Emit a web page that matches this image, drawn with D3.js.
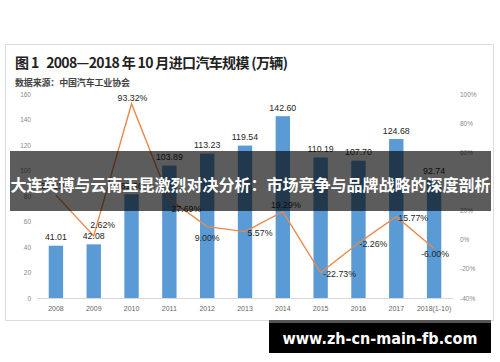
<!DOCTYPE html>
<html><head><meta charset="utf-8">
<script src="https://cdn.jsdelivr.net/npm/d3@7/dist/d3.min.js"></script>
<style>html,body{margin:0;padding:0;background:#fff;}svg{display:block;}</style>
</head><body>
<svg id="c" width="500" height="362"></svg>
<script>
const categories = ["2008","2009","2010","2011","2012","2013","2014","2015","2016","2017","2018(1-10)"];
const imports = [41.01, 42.08, 81.36, 103.89, 113.23, 119.54, 142.60, 110.19, 107.70, 124.68, 92.74];
const growth = [30.61, 2.62, 93.32, 27.69, 9.00, 5.57, 19.29, -22.73, -2.26, 15.77, -6.00];
const leftTicks = [0, 20, 40, 60, 80, 100, 120, 140, 160];
const rightTicks = [-40, -20, 0, 20, 40, 60, 80, 100];
// label placement for growth labels (dx, dy from point)
const growthLabelOffset = [[0,-6],[9,-8],[1,-3],[17,13],[0,14],[15,4],[3,-4],[19,4],[15,4],[17,4],[1,9]];

const svg = d3.select("#c");
const CJK = "'Noto Sans CJK SC', 'Noto Sans', sans-serif";
const LAT = "'Liberation Sans', Arial, sans-serif";

// frame
svg.append("rect").attr("x",5.5).attr("y",44.5).attr("width",488).attr("height",276)
  .attr("fill","#fff").attr("stroke","#dcdcdc").attr("stroke-width",1);

svg.append("text").attr("x",15).attr("y",68).attr("font-family",CJK).attr("font-weight","bold")
  .attr("font-size",14).attr("fill","#222").style("white-space","pre")
  .attr("textLength",273).attr("lengthAdjust","spacing")
  .text("图 1   2008—2018 年 10 月进口汽车规模 (万辆)");
svg.append("text").attr("x",15).attr("y",85.5).attr("font-family",CJK).attr("font-weight","bold")
  .attr("font-size",9).attr("fill","#444").attr("textLength",115).attr("lengthAdjust","spacing")
  .text("数据来源：中国汽车工业协会");

const x = d3.scaleBand().domain(categories).range([37,453]).paddingInner(0.62).paddingOuter(0.31);
const yL = d3.scaleLinear().domain([0,160]).range([298,94]);
const yR = d3.scaleLinear().domain([-40,100]).range([298,94]);

// axes
const gl = svg.append("g").attr("transform","translate(33,0)")
  .call(d3.axisLeft(yL).tickValues(leftTicks).tickSize(0).tickPadding(2));
gl.select(".domain").remove();
gl.selectAll("text").attr("font-family",LAT).attr("font-size",6.5).attr("fill","#888");

const gr = svg.append("g").attr("transform","translate(458,0)")
  .call(d3.axisRight(yR).tickValues(rightTicks).tickSize(0).tickPadding(2).tickFormat(d=>d+"%"));
gr.select(".domain").remove();
gr.selectAll("text").attr("font-family",LAT).attr("font-size",6.5).attr("fill","#888");

const gx = svg.append("g").attr("transform","translate(0,298)")
  .call(d3.axisBottom(x).tickSize(0).tickPadding(8));
gx.select(".domain").attr("stroke","#d9d9d9");
gx.selectAll("text").attr("font-family",LAT).attr("font-size",7).attr("fill","#666");

// bars
svg.append("g").selectAll("rect").data(imports).join("rect")
  .attr("x",(d,i)=>x(categories[i])).attr("width",x.bandwidth())
  .attr("y",d=>yL(d)).attr("height",d=>yL(0)-yL(d)).attr("fill","#5b9bd5");

// line
const line = d3.line().x((d,i)=>x(categories[i])+x.bandwidth()/2).y(d=>yR(d));
svg.append("path").datum(growth).attr("d",line).attr("fill","none")
  .attr("stroke","#e8894a").attr("stroke-width",1.4);

// bar labels
svg.append("g").selectAll("text").data(imports).join("text")
  .attr("x",(d,i)=>x(categories[i])+x.bandwidth()/2).attr("y",d=>yL(d)-5.5)
  .attr("text-anchor","middle").attr("font-family",LAT).attr("font-size",8.8)
  .attr("fill","#262626").text(d=>d.toFixed(2));

// growth labels
svg.append("g").selectAll("text").data(growth).join("text")
  .attr("x",(d,i)=>x(categories[i])+x.bandwidth()/2+growthLabelOffset[i][0])
  .attr("y",(d,i)=>yR(d)+growthLabelOffset[i][1])
  .attr("text-anchor","middle").attr("font-family",LAT).attr("font-size",8.8)
  .attr("fill","#262626").text(d=>d.toFixed(2)+"%");

// banner overlay
svg.append("rect").attr("x",10).attr("y",151).attr("width",481).attr("height",60)
  .attr("fill","#000").attr("fill-opacity",0.64);
svg.append("text").attr("x",250.5).attr("y",190.5).attr("text-anchor","middle")
  .attr("font-family",CJK).attr("font-weight","bold").attr("font-size",16).attr("fill","#fff")
  .attr("textLength",480).attr("lengthAdjust","spacingAndGlyphs")
  .text("大连英博与云南玉昆激烈对决分析：市场竞争与品牌战略的深度剖析");

// watermark
svg.append("rect").attr("x",269).attr("y",320).attr("width",222).attr("height",33).attr("fill","#000");
svg.append("rect").attr("x",269).attr("y",320).attr("width",222).attr("height",3).attr("fill","#555");
svg.append("text").attr("x",380).attr("y",344).attr("text-anchor","middle")
  .attr("font-family","'DejaVu Sans', Verdana, sans-serif").attr("font-weight","bold")
  .attr("font-size",16).attr("fill","#fff").attr("textLength",195).attr("lengthAdjust","spacingAndGlyphs")
  .text("www.zh-cn-main-fb.com");
</script>
</body></html>
